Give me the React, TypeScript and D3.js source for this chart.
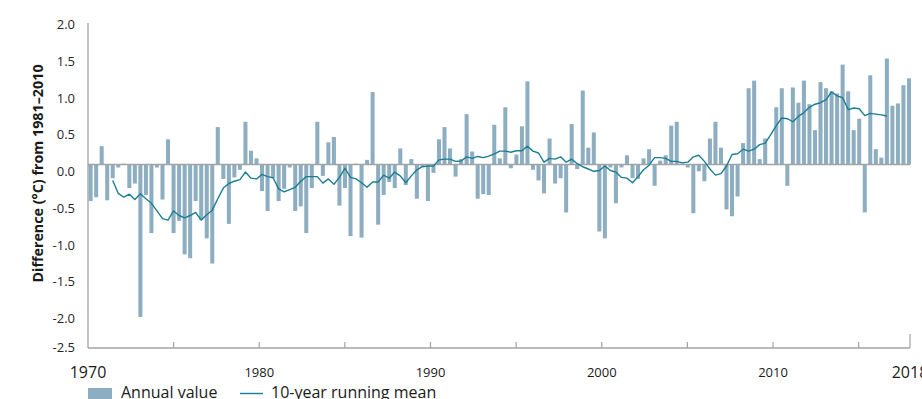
import React from "react";
import * as d3 from "d3";

// Annual temperature difference (°C) from 1981–2010, one value per bar, left to right
const annualValues: number[] = [
  -0.48, -0.43, 0.24, -0.47, -0.18, -0.04, 0.01, -0.31, -0.25, -2.0,
  -0.4, -0.9, -0.04, -0.46, 0.33, -0.9, -0.74, -1.18, -1.23, -0.48,
  -0.73, -0.97, -1.3, 0.49, -0.19, -0.78, -0.17, -0.07, 0.56, 0.18,
  0.08, -0.35, -0.61, -0.18, -0.48, -0.32, -0.04, -0.61, -0.55, -0.9,
  -0.31, 0.56, -0.15, 0.29, 0.36, -0.54, -0.31, -0.94, 0.01, -0.96,
  0.06, 0.95, -0.79, -0.4, -0.23, -0.31, 0.21, -0.27, 0.07, -0.45,
  -0.03, -0.48, -0.11, 0.33, 0.49, 0.21, -0.16, 0.07, 0.66, 0.17,
  -0.45, -0.39, -0.4, 0.52, 0.08, 0.75, -0.05, 0.13, 0.5, 1.09,
  -0.07, -0.21, -0.38, 0.34, -0.25, -0.18, -0.63, 0.53, -0.06, 0.97,
  0.22, 0.42, -0.88, -0.97, -0.04, -0.51, -0.04, 0.12, -0.18, -0.19,
  0.08, 0.2, -0.28, 0.05, 0.12, 0.51, 0.56, 0.01, -0.04, -0.64,
  -0.09, -0.22, 0.34, 0.56, 0.22, -0.59, -0.68, -0.42, 0.28, 1.0,
  1.1, 0.07, 0.34, 0.0, 0.75, 1.0, -0.28, 1.01, 0.81, 1.1,
  0.79, 0.45, 1.08, 1.0, 0.96, 0.93, 1.31, 0.96, 0.45, 0.6,
  -0.63, 1.17, 0.2, 0.09, 1.39, 0.77, 0.8, 1.04, 1.13,
];

// 10-year running mean; first point sits over bar index 4
const runningMeanStart = 4;
const runningMean: number[] = [
  -0.21, -0.38, -0.43, -0.39, -0.46, -0.385, -0.45, -0.51, -0.61, -0.71,
  -0.73, -0.61, -0.67, -0.7, -0.67, -0.63, -0.73, -0.66, -0.6, -0.45,
  -0.31, -0.25, -0.22, -0.2, -0.1, -0.18, -0.19, -0.13, -0.16, -0.175,
  -0.32, -0.36, -0.33, -0.3, -0.22, -0.16, -0.16, -0.16, -0.245, -0.19,
  -0.26, -0.17, -0.05, -0.17, -0.19, -0.24, -0.3, -0.23, -0.23, -0.14,
  -0.18, -0.1, -0.15, -0.24, -0.15, -0.07, -0.03, -0.02, -0.02, 0.06,
  0.07, 0.07, 0.04, 0.045, 0.1, 0.08, 0.105, 0.09, 0.11, 0.14,
  0.175, 0.175, 0.16, 0.18, 0.18, 0.24, 0.175, 0.15, 0.03, 0.08,
  0.07, 0.1, 0.03, 0.07, 0.01, -0.03, -0.06, -0.09, -0.08, -0.02,
  -0.08, -0.1, -0.17, -0.18, -0.24, -0.16, -0.07, -0.01, 0.09, 0.09,
  0.08, 0.04, 0.04, 0.02, 0.03, 0.1, 0.12, 0.04, -0.06, -0.14,
  -0.12, -0.02, 0.13, 0.14, 0.2, 0.175, 0.2, 0.26, 0.28, 0.39,
  0.51, 0.61, 0.6, 0.56, 0.63, 0.68, 0.75, 0.79, 0.81, 0.85,
  0.95, 0.9, 0.875, 0.72, 0.74, 0.73, 0.64, 0.67, 0.66, 0.65,
  0.635,
];

const yTickValues = [2.0, 1.5, 1.0, 0.5, 0.0, -0.5, -1.0, -1.5, -2.0, -2.5];
const xTickYears = [1975, 1980, 1985, 1990, 1995, 2000, 2005, 2010, 2015];
const xSmallLabelYears = [1980, 1990, 2000, 2010];
const xLargeLabelYears = [1970, 2018];
const yAxisTitle = "Difference (°C) from 1981–2010";
const legendLabels = ["Annual value", "10-year running mean"];

const BAR_COLOR = "#8daec0";
const LINE_COLOR = "#1b7d94";
const AXIS_COLOR = "#a3a3a3";
const FONT = "'Open Sans', 'Noto Sans', sans-serif";

export default function App() {
  const W = 922;
  const H = 399;

  const x = d3
    .scaleBand<number>()
    .domain(annualValues.map((_, i) => i))
    .range([88.6, 911])
    .paddingInner(0.27)
    .paddingOuter(0);
  const bw = x.bandwidth();

  const y = d3.scaleLinear().domain([-2.5, 2]).range([355, 12]);
  const yLabel = d3.scaleLinear().domain([2, -2, -2.5]).range([24, 318, 347]);
  const xYear = d3.scaleLinear().domain([1970, 2018]).range([88, 910]);

  const axisBottom = 348;
  const axisTop = 23;
  const y0 = y(0);

  const line = d3
    .line<number>()
    .x((_, k) => (x(k + runningMeanStart) as number) + bw / 2)
    .y((d) => y(d));

  return (
    <svg
      width={W}
      height={H}
      style={{ position: "absolute", left: 0, top: 0, background: "#fff" }}
      fontFamily={FONT}
    >
      {/* bars */}
      <g>
        {annualValues.map((v, i) => (
          <rect
            key={i}
            x={x(i)}
            y={Math.min(y(v), y0)}
            width={bw}
            height={Math.abs(y(v) - y0)}
            fill={BAR_COLOR}
          />
        ))}
      </g>

      {/* zero line */}
      <line x1={xYear(1970)} x2={xYear(2018)} y1={y0} y2={y0} stroke={AXIS_COLOR} strokeWidth={1.5} />

      {/* y axis */}
      <line x1={xYear(1970)} x2={xYear(1970)} y1={axisTop} y2={axisBottom} stroke={AXIS_COLOR} strokeWidth={1.3} />
      {yTickValues.map((t) => (
        <text
          key={t}
          x={75}
          y={yLabel(t)}
          textAnchor="end"
          dominantBaseline="central"
          fontSize={13}
          fill="#262626"
        >
          {t.toFixed(1)}
        </text>
      ))}
      <text
        transform={`translate(37, 173.5) rotate(-90)`}
        textAnchor="middle"
        dominantBaseline="central"
        fontSize={14.3}
        fontWeight="bold"
        fill="#1a1a1a"
      >
        {yAxisTitle}
      </text>

      {/* x axis */}
      <line x1={xYear(1970)} x2={xYear(2018)} y1={axisBottom} y2={axisBottom} stroke={AXIS_COLOR} strokeWidth={1.3} />
      {xTickYears.map((yr) => (
        <line key={yr} x1={xYear(yr)} x2={xYear(yr)} y1={axisBottom} y2={axisBottom - 6} stroke={AXIS_COLOR} strokeWidth={1.2} />
      ))}
      <line x1={xYear(2018)} x2={xYear(2018)} y1={axisBottom} y2={axisBottom - 14} stroke={AXIS_COLOR} strokeWidth={1.2} />
      {xSmallLabelYears.map((yr) => (
        <text key={yr} x={xYear(yr)} y={372} textAnchor="middle" dominantBaseline="central" fontSize={13} fill="#1a1a1a">
          {yr}
        </text>
      ))}
      {xLargeLabelYears.map((yr) => (
        <text key={yr} x={xYear(yr)} y={371.5} textAnchor="middle" dominantBaseline="central" fontSize={16} fill="#1a1a1a">
          {yr}
        </text>
      ))}

      {/* running mean */}
      <path d={line(runningMean) || ""} fill="none" stroke={LINE_COLOR} strokeWidth={1.4} strokeLinejoin="round" />

      {/* legend */}
      <rect x={88} y={388} width={24} height={12} fill={BAR_COLOR} />
      <text x={121} y={398} fontSize={16} fill="#1a1a1a">
        {legendLabels[0]}
      </text>
      <line x1={240} x2={263} y1={393.5} y2={393.5} stroke={LINE_COLOR} strokeWidth={1.4} />
      <text x={271} y={398} fontSize={16} fill="#1a1a1a">
        {legendLabels[1]}
      </text>
    </svg>
  );
}
